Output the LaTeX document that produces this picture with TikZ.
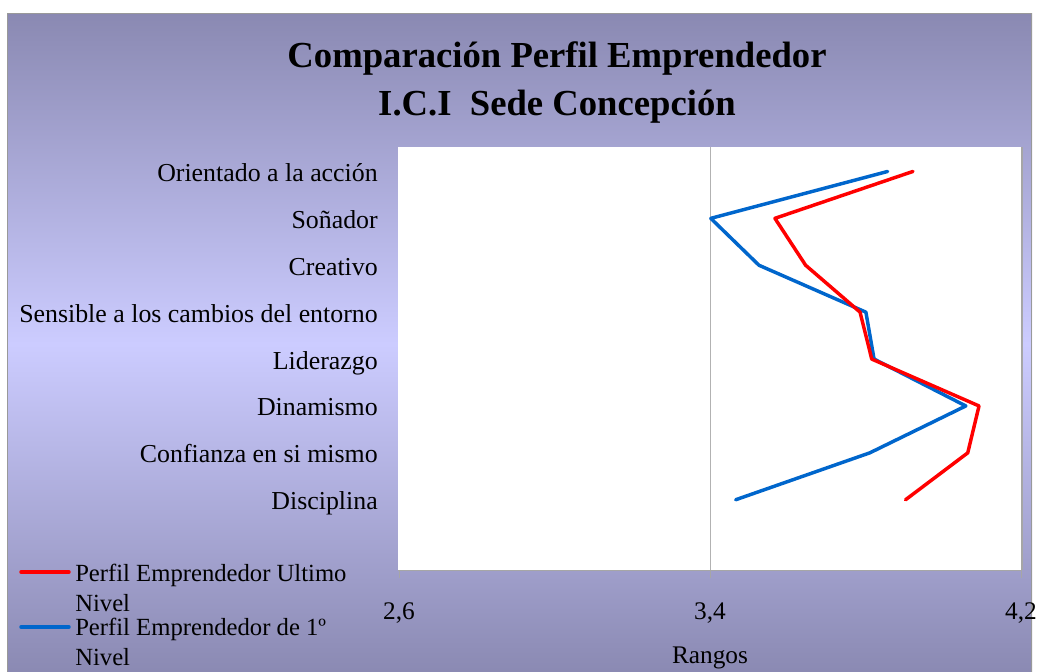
\documentclass[tikz,border=0pt]{standalone}
\usepackage{fontspec}
\setmainfont{Liberation Serif}
\begin{document}
\begin{tikzpicture}[x=0.75pt,y=-0.75pt]
\definecolor{FrameEdge}{RGB}{138,137,178}
\definecolor{FrameMid}{RGB}{204,204,255}
\definecolor{SerieRed}{RGB}{255,0,0}
\definecolor{SerieBlue}{RGB}{0,102,204}
\tikzset{
catlabel/.style={anchor=base east, inner sep=0pt, font=\fontsize{19.4}{23}\selectfont},
ticklabel/.style={anchor=base, inner sep=0pt, font=\fontsize{19}{23}\selectfont},
titletext/.style={anchor=base, inner sep=0pt, font=\fontsize{27.5}{33}\selectfont\bfseries},
legendtext/.style={anchor=north west, inner sep=0pt, align=left, font=\fontsize{18.5}{22.5}\selectfont},
serie/.style={line width=2.6pt, line join=round, line cap=round}
}
\useasboundingbox (0,0) rectangle (1038,671);
\fill[white] (0,0) rectangle (1038,671);
% chart frame
\shade[top color=FrameEdge, bottom color=FrameEdge, middle color=FrameMid] (7,13) rectangle (1032,675);
\draw[gray!80] (7.5,680) -- (7.5,13.5) -- (1031.5,13.5) -- (1031.5,680);
% title
\node[titletext] (title1) at (557,67) {Comparación Perfil Emprendedor};
\node[titletext] (title2) at (557,115) {I.C.I~~Sede Concepción};
% plot area
\fill[white] (398,147) rectangle (1021,570);
\draw[gray!70, line width=1.2pt] (1022,147) -- (1022,570);
\draw[gray!60] (710,147) -- (710,570);
\draw[gray!70] (398,570) -- (1021,570);
\foreach \x/\v in {399/{2,6}, 710/{3,4}, 1021/{4,2}}{
\draw[gray!70] (\x,570) -- (\x,578);
\node[ticklabel] (tick\x) at (\x,619) {\v};
}
\node[ticklabel] (rangos) at (710,663) {Rangos};
% categories and data
\foreach \k/\lbl/\r/\b in {1/Orientado a la acción/3.922/3.857, 2/Soñador/3.567/3.402,
 3/Creativo/3.646/3.526, 4/Sensible a los cambios del entorno/3.786/3.801,
 5/Liderazgo/3.816/3.822, 6/Dinamismo/4.092/4.058, 7/Confianza en si mismo/4.063/3.811,
 8/Disciplina/3.903/3.466}{
\node[catlabel] (cat\k) at (378,{148+(\k-0.5)*46.9+10}) {\lbl};
\coordinate (r\k) at ({399+(\r-2.6)*388.75},{148+(\k-0.5)*46.9});
\coordinate (b\k) at ({399+(\b-2.6)*388.75},{148+(\k-0.5)*46.9});
}
\draw[serie, SerieBlue] (b1) -- (b2) -- (b3) -- (b4) -- (b5) -- (b6) -- (b7) -- (b8);
\draw[serie, SerieRed] (r1) -- (r2) -- (r3) -- (r4) -- (r5) -- (r6) -- (r7) -- (r8);
% legend
\coordinate (legR) at (21,572);
\coordinate (legB) at (21,627);
\draw[serie, SerieRed] (legR) -- ++(48,0);
\draw[serie, SerieBlue] (legB) -- ++(48,0);
\node[legendtext] (legRtxt) at (75,564) {Perfil Emprendedor Ultimo\\Nivel};
\node[legendtext] (legBtxt) at (75,618) {Perfil Emprendedor de 1º\\Nivel};
\end{tikzpicture}
\end{document}
